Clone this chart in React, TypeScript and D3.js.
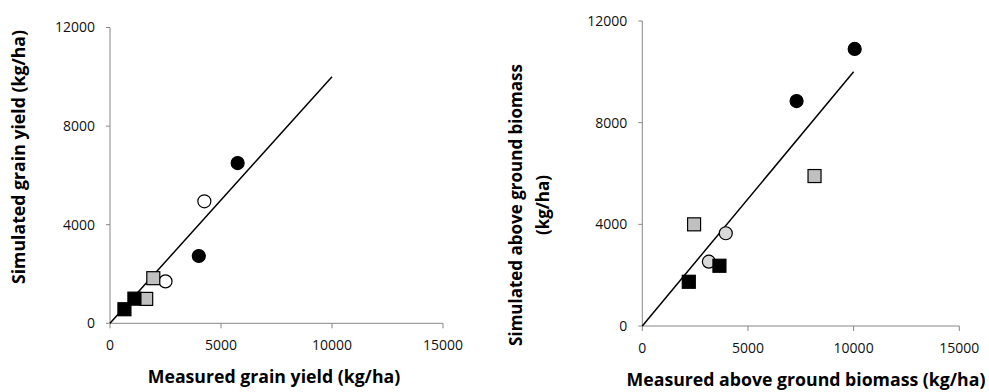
import React from "react";
import * as d3 from "d3";

type Pt = { x: number; y: number };

// Left panel: grain yield (kg/ha)
const grainBlackCircles: Pt[] = [{ x: 5750, y: 6500 }, { x: 4000, y: 2730 }];
const grainOpenCircles: Pt[] = [{ x: 4250, y: 4950 }, { x: 2500, y: 1700 }];
const grainGraySquares: Pt[] = [{ x: 1950, y: 1830 }, { x: 1630, y: 990 }];
const grainBlackSquares: Pt[] = [{ x: 1100, y: 1000 }, { x: 650, y: 570 }];

// Right panel: above ground biomass (kg/ha)
const bioBlackCircles: Pt[] = [{ x: 10050, y: 10900 }, { x: 7300, y: 8850 }];
const bioLightCircles: Pt[] = [{ x: 3950, y: 3650 }, { x: 3150, y: 2530 }];
const bioGraySquares: Pt[] = [{ x: 8150, y: 5900 }, { x: 2450, y: 4000 }];
const bioBlackSquares: Pt[] = [{ x: 3650, y: 2370 }, { x: 2200, y: 1740 }];

const xTicks = [0, 5000, 10000, 15000];
const yTicks = [0, 4000, 8000, 12000];
const oneToOne: Pt[] = [{ x: 0, y: 0 }, { x: 10000, y: 10000 }];

type Series = { pts: Pt[]; shape: "circle" | "square"; fill: string };

const AXIS = "#868686";
const FONT = "'Open Sans', 'Noto Sans', sans-serif";

function Panel(props: {
  x0: number; x1: number; y0: number; y1: number;
  series: Series[];
  xLabel: string; xLabelX: number; xLabelY: number; xLabelSize: number;
  yLabels: string[]; yLabelXs: number[]; yLabelY: number; yLabelSize: number;
}) {
  const { x0, x1, y0, y1, series } = props;
  const xs = d3.scaleLinear().domain([0, 15000]).range([x0, x1]);
  const ys = d3.scaleLinear().domain([0, 12000]).range([y0, y1]);
  const line = d3.line<Pt>().x(d => xs(d.x)).y(d => ys(d.y));
  const size = 13;
  return (
    <g>
      {/* y axis */}
      <line x1={x0} x2={x0} y1={y0} y2={y1} stroke={AXIS} strokeWidth={1} />
      {yTicks.map(t => (
        <g key={"y" + t}>
          <line x1={x0 - 4} x2={x0} y1={ys(t)} y2={ys(t)} stroke={AXIS} />
          <text x={x0 - 15} y={ys(t)} dy="0.35em" textAnchor="end" fontSize={14} fontFamily={FONT} fill="#111">{t}</text>
        </g>
      ))}
      {/* x axis */}
      <line x1={x0} x2={x1} y1={y0} y2={y0} stroke={AXIS} strokeWidth={1} />
      {xTicks.map(t => (
        <g key={"x" + t}>
          <line x1={xs(t)} x2={xs(t)} y1={y0} y2={y0 + 5} stroke={AXIS} />
          <text x={xs(t)} y={y0 + 22} dy="0.35em" textAnchor="middle" fontSize={14} fontFamily={FONT} fill="#111">{t}</text>
        </g>
      ))}
      <path d={line(oneToOne) || ""} stroke="#000" strokeWidth={1.5} fill="none" />
      {series.map((s, i) => (
        <g key={i}>
          {s.pts.map((p, j) =>
            s.shape === "circle" ? (
              <circle key={j} cx={xs(p.x)} cy={ys(p.y)} r={size / 2} fill={s.fill} stroke="#000" strokeWidth={1.2} />
            ) : (
              <rect key={j} x={xs(p.x) - size / 2} y={ys(p.y) - size / 2} width={size} height={size} fill={s.fill} stroke="#000" strokeWidth={1.2} />
            )
          )}
        </g>
      ))}
      <text x={props.xLabelX} y={props.xLabelY} dy="0.35em" textAnchor="middle" fontSize={props.xLabelSize} fontWeight="bold" fontFamily={FONT} fill="#000">{props.xLabel}</text>
      {props.yLabels.map((l, i) => (
        <text key={i} transform={`translate(${props.yLabelXs[i]},${props.yLabelY}) rotate(-90)`} dy="0.35em" textAnchor="middle" fontSize={props.yLabelSize} fontWeight="bold" fontFamily={FONT} fill="#000">{l}</text>
      ))}
    </g>
  );
}

export default function App() {
  return (
    <svg width={989} height={392} style={{ position: "absolute", left: 0, top: 0, background: "#fff" }}>
      <rect width={989} height={392} fill="#fff" />
      <Panel
        x0={110} x1={443} y0={323.3} y1={27.5}
        series={[
          { pts: grainBlackCircles, shape: "circle", fill: "#000" },
          { pts: grainOpenCircles, shape: "circle", fill: "#fff" },
          { pts: grainGraySquares, shape: "square", fill: "#c0c0c0" },
          { pts: grainBlackSquares, shape: "square", fill: "#000" },
        ]}
        xLabel="Measured grain yield (kg/ha)" xLabelX={274} xLabelY={377} xLabelSize={17.7}
        yLabels={["Simulated grain yield (kg/ha)"]} yLabelXs={[19]} yLabelY={157} yLabelSize={17.7}
      />
      <Panel
        x0={642.3} x1={959.3} y0={326} y1={21}
        series={[
          { pts: bioBlackCircles, shape: "circle", fill: "#000" },
          { pts: bioLightCircles, shape: "circle", fill: "#d9d9d9" },
          { pts: bioGraySquares, shape: "square", fill: "#c0c0c0" },
          { pts: bioBlackSquares, shape: "square", fill: "#000" },
        ]}
        xLabel="Measured above ground biomass (kg/ha)" xLabelX={806} xLabelY={380} xLabelSize={17.7}
        yLabels={["Simulated above ground biomass", "(kg/ha)"]} yLabelXs={[516, 543]} yLabelY={205} yLabelSize={17}
      />
    </svg>
  );
}
